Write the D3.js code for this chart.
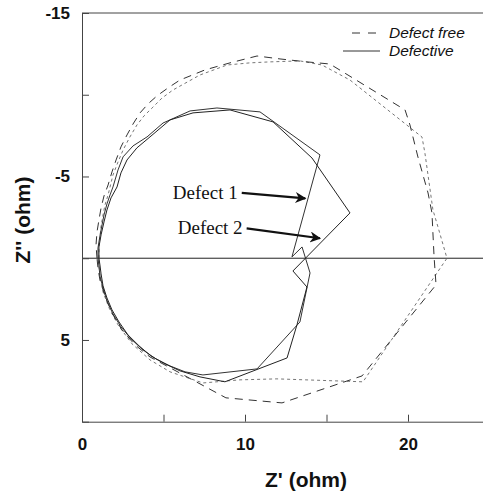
<!DOCTYPE html>
<html>
<head>
<meta charset="utf-8">
<script src="https://cdn.jsdelivr.net/npm/d3@7"></script>
<style>
  body { margin: 0; background: #fff; }
  svg { display: block; }
  .tick text { font-family: "Liberation Sans", Arial, sans-serif; font-weight: bold; font-size: 17px; fill: #111; }
</style>
</head>
<body>
<svg></svg>
<script>
// Z' and Z'' values (ohm)
let freeA_re = [0.92, 0.86, 0.92, 1.04, 1.17, 1.35, 1.60, 1.84, 2.09, 2.39, 2.76, 3.13, 3.56, 4.05, 4.60, 5.28, 6.01, 7.55, 9.08, 10.74, 12.15, 13.80, 15.21, 19.82, 20.12, 20.61, 21.23, 21.47, 21.60, 21.72, 17.18, 12.27, 8.83, 4.17, 3.25, 2.45, 1.84, 1.41, 1.10, 0.98, 0.92]
let freeA_im = [0, -0.81, -1.61, -2.34, -3.08, -3.81, -4.48, -5.28, -6.01, -6.81, -7.54, -8.21, -8.89, -9.44, -9.93, -10.42, -10.90, -11.52, -11.95, -12.37, -12.19, -12.01, -11.88, -9.07, -8.15, -6.19, -3.99, -2.77, -0.08, 1.63, 7.20, 8.85, 8.54, 6.04, 5.30, 4.39, 3.35, 2.31, 1.33, 0.59, 0]

let freeB_re = [1.04, 1.04, 1.10, 1.17, 1.29, 1.41, 1.60, 1.90, 2.21, 2.52, 2.94, 3.37, 3.80, 4.36, 4.91, 5.58, 7.24, 8.90, 10.31, 11.53, 13.37, 14.72, 16.44, 20.86, 21.04, 21.53, 21.84, 22.39, 17.24, 11.96, 9.69, 7.42, 5.40, 4.17, 3.07, 2.21, 1.66, 1.29, 1.10, 1.04, 1.04]
let freeB_im = [0, -0.74, -1.24, -1.98, -2.65, -3.26, -3.87, -5.09, -5.89, -6.62, -7.42, -8.15, -8.70, -9.25, -9.80, -10.29, -11.21, -11.82, -11.95, -12.01, -12.07, -11.82, -10.90, -7.41, -6.42, -2.95, -1.91, 0, 7.56, 7.38, 7.44, 7.63, 6.95, 6.22, 5.24, 4.08, 3.04, 2.06, 1.08, 0.47, 0]

let defA_re = [0.98, 0.98, 1.10, 1.23, 1.35, 1.53, 1.72, 1.90, 2.21, 2.52, 3.13, 3.99, 4.97, 6.63, 8.28, 10.92, 14.60, 12.88, 13.50, 13.99, 13.37, 10.74, 7.42, 6.32, 5.40, 4.54, 3.74, 3.01, 2.39, 1.90, 1.53, 1.29, 1.10, 1.04, 0.98]
let defA_im = [0, -0.63, -1.36, -2.04, -2.65, -3.32, -3.87, -4.36, -5.40, -6.20, -6.87, -7.42, -8.27, -9.01, -9.19, -8.95, -6.32, -0.08, -0.69, 0.90, 3.90, 6.77, 7.14, 6.95, 6.59, 6.16, 5.61, 4.94, 4.20, 3.41, 2.61, 1.82, 1.08, 0.47, 0]

let defB_re = [1.04, 1.04, 1.17, 1.35, 1.53, 1.78, 2.15, 2.39, 2.76, 3.37, 4.17, 5.40, 6.81, 9.08, 11.72, 14.11, 16.44, 12.94, 13.80, 13.19, 12.58, 8.77, 7.24, 6.01, 5.09, 4.23, 3.50, 2.82, 2.27, 1.84, 1.53, 1.29, 1.17, 1.10, 1.04]
let defB_im = [0, -0.69, -1.43, -2.22, -2.95, -3.69, -4.36, -5.22, -6.01, -6.75, -7.42, -8.46, -8.89, -9.07, -8.34, -6.13, -2.77, 0.78, 1.76, 4.07, 6.10, 7.56, 7.26, 6.89, 6.46, 5.98, 5.36, 4.69, 3.90, 3.16, 2.43, 1.69, 0.96, 0.41, 0]

let xTicks = [0, 5, 10, 15, 20, 25]
let yTicks = [-15, -10, -5, 0, 5, 10]
let xLabels = [0, 10, 20]
let yLabels = [-15, -5, 5]

// annotation arrows: [label, x0, y0, x1, y1]
let notes = [
    ["Defect 1", 9.8, -4.0, 13.7, -3.66],
    ["Defect 2", 10.1, -1.83, 14.6, -1.22]
]

let width = 483
let height = 494
let padLeft = 82, padTop = 13, plotRight = 489.5, plotBottom = 421.7

let svg = d3.select("svg").attr("width", width).attr("height", height)

let xScale = d3.scaleLinear().domain([0, 25]).range([padLeft, plotRight])
let yScale = d3.scaleLinear().domain([-15, 10]).range([padTop, plotBottom])

let toPts = (re, im) => re.map((v, i) => [v, im[i]])

let line = d3.line()
    .x(d => xScale(d[0]))
    .y(d => yScale(d[1]))

let series = [
    { pts: toPts(freeB_re, freeB_im), color: "#666", dash: "3,3", w: 0.9 },
    { pts: toPts(freeA_re, freeA_im), color: "#333", dash: "8,6", w: 1 },
    { pts: toPts(defA_re, defA_im), color: "#333", dash: null, w: 1 },
    { pts: toPts(defB_re, defB_im), color: "#222", dash: null, w: 1 }
]

// frame
svg.append("line")
    .attr("x1", padLeft).attr("x2", width)
    .attr("y1", padTop).attr("y2", padTop)
    .attr("stroke", "#444").attr("stroke-width", 1)

svg.append("line")
    .attr("x1", padLeft).attr("x2", width)
    .attr("y1", yScale(0)).attr("y2", yScale(0))
    .attr("stroke", "#222").attr("stroke-width", 1)

let xAxis = d3.axisBottom(xScale)
    .tickValues(xTicks)
    .tickSizeInner(-7)
    .tickSizeOuter(0)
    .tickPadding(16)
    .tickFormat(d => xLabels.includes(d) ? d : "")

svg.append("g")
    .attr("transform", "translate(0," + plotBottom + ")")
    .call(xAxis)
    .call(g => g.selectAll("path, line").attr("stroke", "#444"))

let yAxis = d3.axisLeft(yScale)
    .tickValues(yTicks)
    .tickSizeInner(-7)
    .tickSizeOuter(0)
    .tickPadding(12)
    .tickFormat(d => yLabels.includes(d) ? d : "")

svg.append("g")
    .attr("transform", "translate(" + padLeft + ",0)")
    .call(yAxis)
    .call(g => g.selectAll("path, line").attr("stroke", "#444"))

// curves
svg.selectAll(".curve")
    .data(series)
    .enter()
    .append("path")
    .attr("class", "curve")
    .attr("d", d => line(d.pts))
    .attr("fill", "none")
    .attr("stroke", d => d.color)
    .attr("stroke-width", d => d.w)
    .attr("stroke-dasharray", d => d.dash)

// arrows
let defs = svg.append("defs")
defs.append("marker")
    .attr("id", "head")
    .attr("viewBox", "0 0 10 10")
    .attr("refX", 9).attr("refY", 5)
    .attr("markerWidth", 6).attr("markerHeight", 5)
    .attr("orient", "auto")
    .attr("markerUnits", "strokeWidth")
    .append("path")
    .attr("d", "M0,0 L10,5 L0,10 L3,5 Z")
    .attr("fill", "#111")

svg.selectAll(".arrow")
    .data(notes)
    .enter()
    .append("line")
    .attr("class", "arrow")
    .attr("x1", d => xScale(d[1])).attr("y1", d => yScale(d[2]))
    .attr("x2", d => xScale(d[3])).attr("y2", d => yScale(d[4]))
    .attr("stroke", "#111").attr("stroke-width", 2.2)
    .attr("marker-end", "url(#head)")

svg.selectAll(".note")
    .data(notes)
    .enter()
    .append("text")
    .attr("class", "note")
    .text(d => d[0])
    .attr("x", d => xScale(d[1]) - 4)
    .attr("y", d => yScale(d[2]) + 6)
    .attr("text-anchor", "end")
    .style("font-family", "'Liberation Serif', 'Times New Roman', serif")
    .style("font-size", "19px")
    .style("fill", "#111")

// legend
let legend = svg.append("g")
legend.append("line")
    .attr("x1", 352).attr("x2", 380).attr("y1", 33).attr("y2", 33)
    .attr("stroke", "#333").attr("stroke-width", 1).attr("stroke-dasharray", "8,8")
legend.append("text")
    .text("Defect free")
    .attr("x", 389).attr("y", 38)
legend.append("line")
    .attr("x1", 343).attr("x2", 380).attr("y1", 51).attr("y2", 51)
    .attr("stroke", "#333").attr("stroke-width", 1)
legend.append("text")
    .text("Defective")
    .attr("x", 389).attr("y", 56)
legend.selectAll("text")
    .style("font-family", "'Liberation Sans', Arial, sans-serif")
    .style("font-style", "italic")
    .style("font-size", "15.5px")
    .style("fill", "#111")

// axis names
svg.append("text")
    .text("Z' (ohm)")
    .attr("x", 306).attr("y", 487)
    .attr("text-anchor", "middle")
    .style("font-family", "'Liberation Sans', Arial, sans-serif")
    .style("font-weight", "bold")
    .style("font-size", "21px")
    .style("fill", "#111")

svg.append("text")
    .text("Z'' (ohm)")
    .attr("transform", "translate(30,220) rotate(-90)")
    .attr("text-anchor", "middle")
    .style("font-family", "'Liberation Sans', Arial, sans-serif")
    .style("font-weight", "bold")
    .style("font-size", "21px")
    .style("fill", "#111")
</script>
</body>
</html>
